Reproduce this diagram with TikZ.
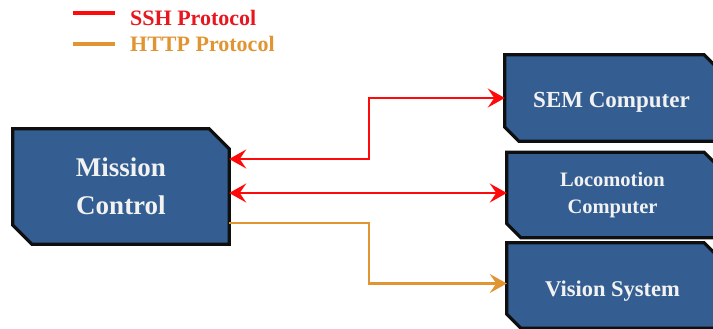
\documentclass[tikz,border=0pt]{standalone}
\usepackage{fontspec}
\setmainfont{Liberation Serif}
\usetikzlibrary{arrows.meta,calc,backgrounds}

\definecolor{boxblue}{RGB}{52,94,145}
\definecolor{boxedge}{RGB}{15,15,15}
\definecolor{sshred}{RGB}{255,10,10}
\definecolor{legendred}{RGB}{232,22,30}
\definecolor{httporange}{RGB}{225,148,50}
\definecolor{labelwhite}{RGB}{242,242,242}

\tikzset{
  boxlabel/.style={shape=rectangle, inner sep=0pt, align=center,
    text=labelwhite},
  boxline/.style={draw=boxedge, line width=3.2pt, fill=boxblue, line join=miter},
  link/.style={line width=2.2pt},
  ssh/.style={link, draw=sshred},
  http/.style={link, draw=httporange},
  tipend/.tip={Stealth[length=17pt, width=19pt, inset=6.5pt]},
  legendline/.style={line width=4pt},
  legendtext/.style={anchor=base west, inner sep=0pt,
    font=\bfseries\fontsize{22}{24}\selectfont},
}

% chamfered outline around a node: #2 = top-right cut, #3 = bottom-left cut
\newcommand\chamferbox[3]{%
  \draw[boxline] (#1.north west)
    -- ($(#1.north east)+(-#2,0)$) -- ($(#1.north east)+(0,#2)$)
    -- (#1.south east)
    -- ($(#1.south west)+(#3,0)$) -- ($(#1.south west)+(0,-#3)$)
    -- cycle;}

\begin{document}
\begin{tikzpicture}[x=1pt, y=-1pt]
  \useasboundingbox (0,0) rectangle (713,329);
  \clip (0,0) rectangle (713,329);

  % legend
  \draw[legendline, sshred] (73,13) coordinate (sshA) -- (115,13) coordinate (sshB);
  \node[legendtext, text=legendred] (sshkey) at (130,26) {SSH Protocol};
  \draw[legendline, httporange] (73,44) coordinate (httpA) -- (115,44) coordinate (httpB);
  \node[legendtext, text=httporange] (httpkey) at (130,52) {HTTP Protocol};

  % box labels
  \node[boxlabel, minimum width=216pt, minimum height=115pt,
        font=\bfseries\fontsize{27}{38}\selectfont] (mc) at (121,186.5) {Mission\\Control};
  \node[boxlabel, minimum width=213pt, minimum height=86pt, text height=19pt, text depth=0pt,
        font=\bfseries\fontsize{23}{27}\selectfont] (sem) at (611.5,98) {SEM Computer};
  \node[boxlabel, minimum width=211pt, minimum height=85pt,
        font=\bfseries\fontsize{20.5}{27}\selectfont] (loco) at (612.5,195) {Locomotion\\Computer};
  \node[boxlabel, minimum width=211pt, minimum height=85pt, text height=22pt, text depth=0pt,
        font=\bfseries\fontsize{22.5}{27}\selectfont] (vis) at (612.5,285.5) {Vision System};

  % box outlines behind the labels
  \begin{pgfonlayer}{background}
    \clip (0,0) rectangle (713,329);
    \fill[white] (0,0) rectangle (713,329);
    \chamferbox{mc}{20}{19}
    \chamferbox{sem}{14}{14}
    \chamferbox{loco}{14}{14}
    \chamferbox{vis}{14}{14}
  \end{pgfonlayer}

  % connectors
  \draw[ssh, tipend-tipend] ([yshift=27.5pt]mc.east) -- ++(140,0) coordinate (sshbend) |- (sem.west);
  \draw[ssh, tipend-tipend] (mc.east |- 0,193) -- (loco.west |- 0,193);
  \draw[http, -tipend] ([yshift=-36.5pt]mc.east) -- ++(140,0) coordinate (httpbend) |- ([yshift=2pt]vis.west);
\end{tikzpicture}
\end{document}
